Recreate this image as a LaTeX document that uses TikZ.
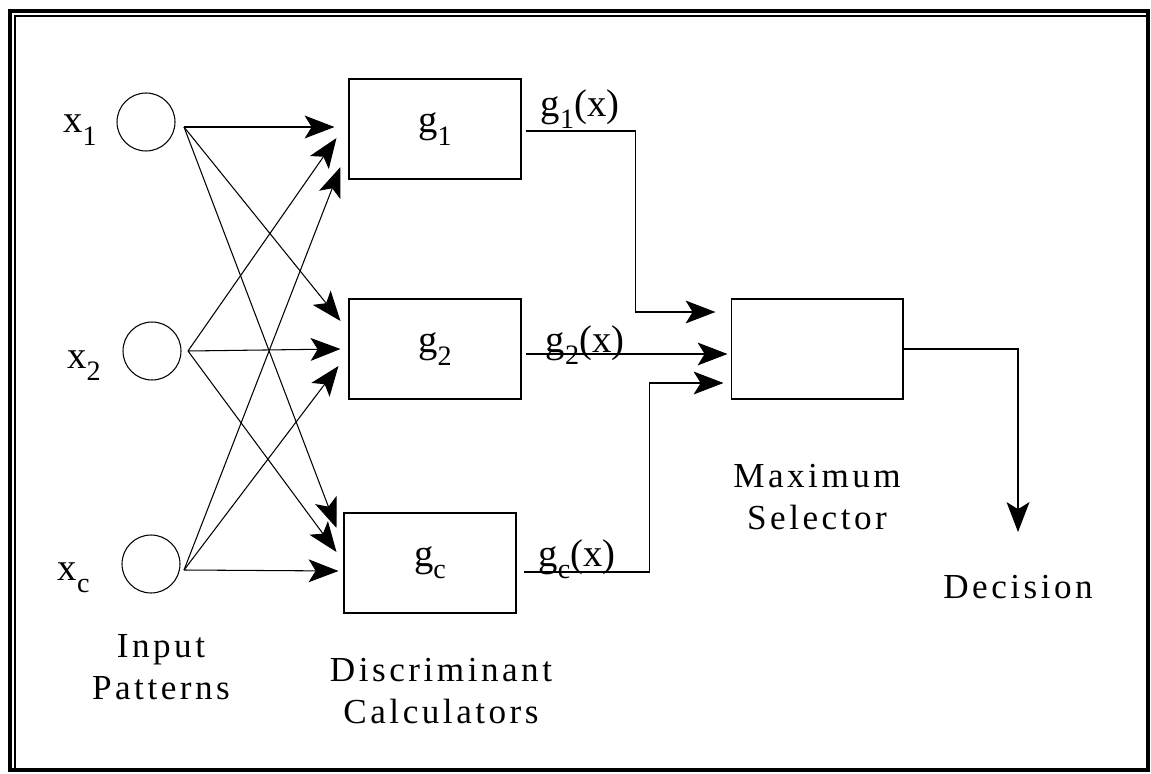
\documentclass[tikz,border=0pt]{standalone}
\usepackage{fontspec}
\setmainfont{Liberation Serif}
\newfontfamily\spaced[LetterSpace=10]{Liberation Serif}
\usetikzlibrary{positioning, arrows.meta, calc}

% letter with a large lowered index, as in the scan
\newcommand{\sbs}[2]{#1\raisebox{-7pt}{\fontsize{16}{16}\selectfont #2}}

\tikzset{
  inp/.style={circle, draw, minimum size=1.16cm, inner sep=0pt},
  disc/.style={rectangle, draw, minimum width=3.44cm, minimum height=2cm, font=\fontsize{22}{26}\selectfont},
  sym/.style={font=\fontsize{22}{26}\selectfont, inner sep=1pt},
  caption/.style={font=\spaced\fontsize{20}{24}\selectfont, align=center, inner sep=0pt}
}

\begin{document}
\begin{tikzpicture}[x=0.02cm, y=-0.02cm, line width=0.6pt, >={Stealth[length=17pt, width=13pt, inset=4pt]}]
    \useasboundingbox (0,0) rectangle (1151,773);

    % frame
    \draw[line width=1.8pt] (10,11) rectangle (1148,770);
    \draw (15,770) -- (15,16) -- (1148,16);

    % input patterns
    \node[inp] (X1) at (146,122) {};
    \node[inp] (X2) at (152,351) {};
    \node[inp] (XC) at (151,564) {};
    \node[sym, anchor=base east] (L1) at (99,133) {\sbs{x}{1}};
    \node[sym, anchor=base east] (L2) at (103,368) {\sbs{x}{2}};
    \node[sym, anchor=base east] (LC) at (92,580) {\sbs{x}{c}};
    \node[caption, below=0.8cm of XC, xshift=0.2cm] (IP) {Input\\Patterns};

    % discriminant calculators
    \node[disc] (G1) at (435,129) {\sbs{g}{1}};
    \node[disc] (G2) at (435,349) {\sbs{g}{2}};
    \node[disc] (GC) at (430,563) {\sbs{g}{c}};
    \node[caption, below=0.88cm of GC, xshift=0.22cm] (DC) {Discriminant\\Calculators};

    % maximum selector
    \node[disc] (MS) at (817,349) {};
    \node[caption, below=1.28cm of MS] (MX) {Maximum\\Selector};

    \coordinate (X1o) at (184,127);
    \coordinate (X2o) at (188,351);
    \coordinate (XCo) at (184,570);

    \path[->]
    (X1o) edge ($(G1.west)+(-14,-2)$)
    (X1o) edge ($(G2.west)+(-8,-28)$)
    (X1o) edge ($(GC.west)+(-7,-35)$)

    (X2o) edge ($(G1.west)+(-12,9)$)
    (X2o) edge ($(G2.west)+(-8,0)$)
    (X2o) edge ($(GC.west)+(-7,-11)$)

    (XCo) edge ($(G1.west)+(-8,38)$)
    (XCo) edge ($(G2.west)+(-10,17)$)
    (XCo) edge ($(GC.west)+(-5,8)$);

    % discriminant outputs
    \coordinate (M1) at ($(MS.west)+(-15,-37)$);
    \coordinate (M2) at ($(MS.west)+(-3,5)$);
    \coordinate (M3) at ($(MS.west)+(-7,34)$);
    \draw[->] ($(G1.east)+(4,2)$) -| ($(M1)+(-80,0)$) -- (M1);
    \draw[->] ($(G2.east)+(4,5)$) -- (M2);
    \draw[->] ($(GC.east)+(7,9)$) -| ($(M3)+(-74,0)$) -- (M3);
    \node[sym, anchor=south] (O1) at (580,131) {\sbs{g}{1}(x)};
    \node[sym, anchor=base] (O2) at (585,352) {\sbs{g}{2}(x)};
    \node[sym, anchor=base] (OC) at (577,566) {\sbs{g}{c}(x)};

    % decision
    \coordinate (D) at (1018,532);
    \draw[->] (MS.east) -| (D);
    \node[caption, below=0.86cm of D] (DE) {Decision};
\end{tikzpicture}
\end{document}
